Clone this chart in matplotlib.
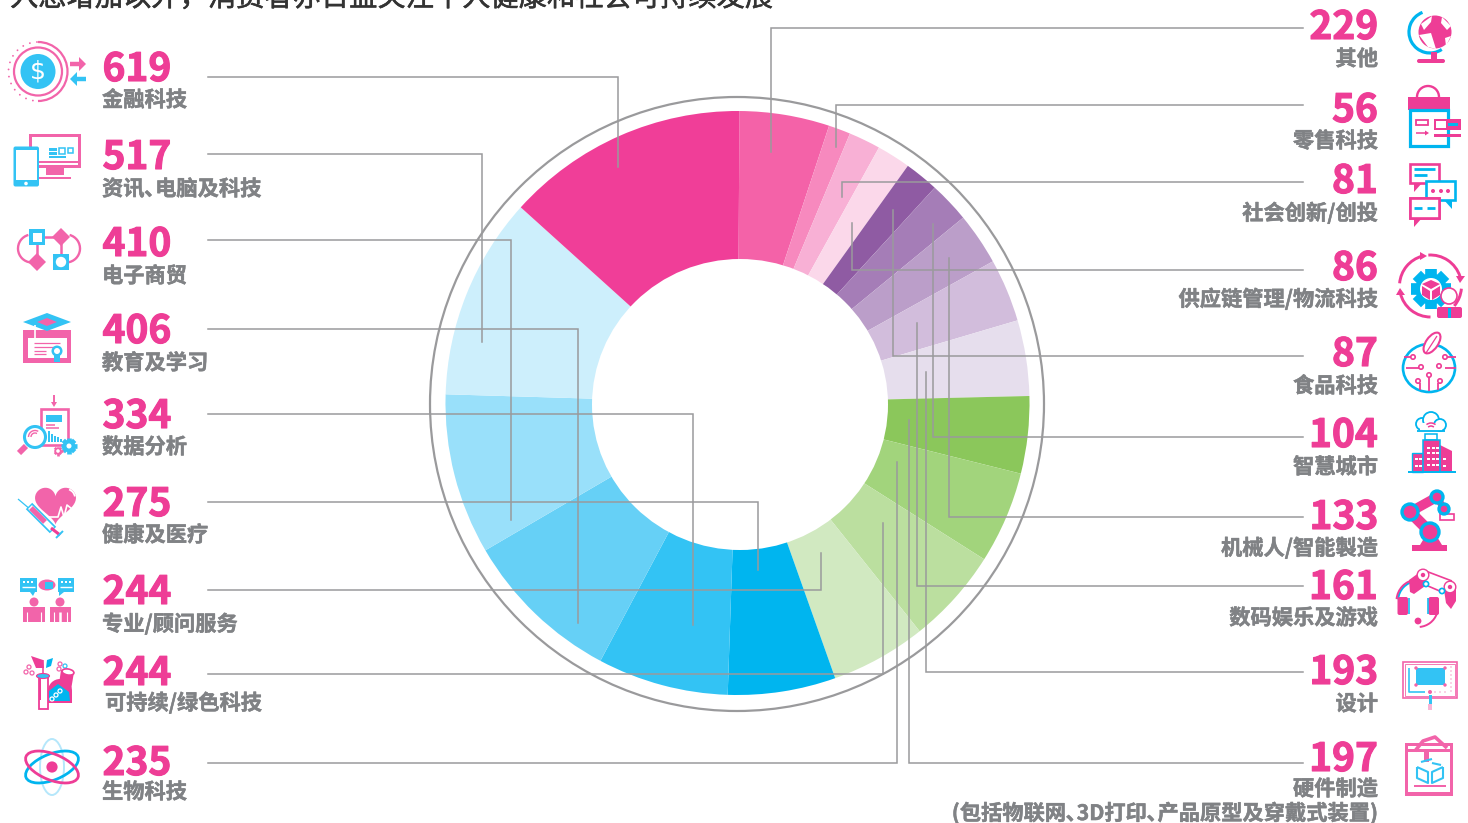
import numpy as np
import matplotlib
matplotlib.use("Agg")
import matplotlib.pyplot as plt
import matplotlib.patheffects as pe
from matplotlib.patches import Circle, Rectangle, Polygon, Arc, Ellipse, FancyBboxPatch

plt.rcParams['font.family'] = ['Noto Sans CJK SC', 'DejaVu Sans']

# Daten
right_names = ["其他", "零售科技", "社会创新/创投", "供应链管理/物流科技", "食品科技",
               "智慧城市", "机械人/智能製造", "数码娱乐及游戏", "设计",
               "硬件制造\n(包括物联网､3D打印､产品原型及穿戴式装置)"]
right_values = [229, 56, 81, 86, 87, 104, 133, 161, 193, 197]
left_names = ["金融科技", "资讯､电脑及科技", "电子商贸", "教育及学习", "数据分析",
              "健康及医疗", "专业/顾问服务", "可持续/绿色科技", "生物科技"]
left_values = [619, 517, 410, 406, 334, 275, 244, 244, 235]
title = "入息增加以外，消费者亦日益关注个人健康和社会可持续发展"

# Ring im Uhrzeigersinn ab 12 Uhr
ring_values = right_values + left_values[::-1]
ring_colors = ["#F462A8", "#F789BE", "#F8B0D5", "#FBD8EA",
               "#8F5BA3", "#A57DB7", "#BB9EC9", "#D2BDDC", "#E6DEED",
               "#8BC75B", "#A2D47C", "#BBDF9F", "#D1E9C1",
               "#00B5EF", "#33C3F4", "#66D0F6", "#99E0FA", "#CDEFFC", "#F03E98"]

# Layout in Pixeln: (y Linie, x Knick, y Ende, y Zahl, y Text)
left_rows = [(77, 618, 167, 81, 100), (154, 482, 342, 169, 189), (239.5, 511, 520, 256, 276),
             (329, 578, 623, 343, 363), (414, 693, 625, 428, 447), (501.5, 758, 570, 516, 535),
             (589.5, 821, 553, 604, 624), (674, 883, 523, 685, 703), (763, 897, 462, 775, 792)]
right_rows = [(27.5, 771, 152, 39, 59), (105, 836, 147, 122, 141), (182, 842, 197, 193, 213),
              (269.5, 852, 223, 280, 299), (356, 893, 210, 366, 386), (437, 933, 224, 447, 467),
              (517, 949, 258, 529, 548), (586, 917, 323, 599, 618), (672, 926, 372, 684, 704),
              (763, 909, 420, 771, 789)]

W, H = 1468, 823
PINK = "#EE3D96"
PINK2 = "#F264AA"
BLUE = "#33C3F4"
BLUE2 = "#00B5EF"
GREY = "#808285"
LINE = "#9A9A9C"

fig = plt.figure(figsize=(W / 100, H / 100), dpi=100)

cx, cy, r = 737.5, 403, 292
ax = fig.add_axes([(cx - r) / W, 1 - (cy + r) / H, 2 * r / W, 2 * r / H])
ax.pie(ring_values, colors=ring_colors, startangle=89.6, counterclock=False, radius=1,
       wedgeprops=dict(width=0.55, linewidth=0))
ax.set_xlim(-1, 1)
ax.set_ylim(-1, 1)
ax.axis("off")

# Overlay in Bildpixeln
pa = fig.add_axes([0, 0, 1, 1], facecolor="none")
pa.set_xlim(0, W)
pa.set_ylim(H, 0)
pa.axis("off")

# Loch sitzt im Original leicht neben der Mitte
pa.add_patch(Ellipse((740, 404.5), 296, 291, fc="white", ec="none", zorder=1))
pa.add_patch(Circle((737, 404), 307, fc="none", ec=LINE, lw=1.6))


def R(x0, y0, x1, y1, c=PINK, ec="none", lw=0, z=3):
    pa.add_patch(Rectangle((x0, y0), x1 - x0, y1 - y0, fc=c, ec=ec, lw=lw, zorder=z))


def O(x0, y0, x1, y1, ec=PINK, lw=1.6, z=3):
    pa.add_patch(Rectangle((x0, y0), x1 - x0, y1 - y0, fc="white", ec=ec, lw=lw, zorder=z))


def C(x, y, rad, c=PINK, ec="none", lw=0, z=3):
    pa.add_patch(Circle((x, y), rad, fc=c, ec=ec, lw=lw, zorder=z))


def P(pts, c=PINK, z=3):
    pa.add_patch(Polygon(pts, closed=True, fc=c, ec="none", zorder=z))


def L(pts, c=PINK, lw=1.5, z=3):
    xs, ys = zip(*pts)
    pa.plot(xs, ys, color=c, lw=lw, zorder=z, solid_capstyle="butt")


def A(x, y, rad, a0, a1, c=PINK, lw=1.5, z=3):
    # y-Achse ist invertiert, Winkel laufen im Uhrzeigersinn
    pa.add_patch(Arc((x, y), 2 * rad, 2 * rad, theta1=a0, theta2=a1, color=c, lw=lw, zorder=z))


def E(x, y, a, b, ang, ec=PINK, lw=1.8, z=3):
    pa.add_patch(Ellipse((x, y), 2 * a, 2 * b, angle=ang, fc="none", ec=ec, lw=lw, zorder=z))


def gear(x, y, rad, c):
    for k in range(8):
        t = k * np.pi / 4
        L([(x, y), (x + rad * np.cos(t), y + rad * np.sin(t))], c, lw=rad * 0.42, z=3)
    C(x, y, rad * 0.78, c, z=3)


def bubble(x0, y0, x1, y1, tx, c, flip=False):
    O(x0, y0, x1, y1, ec=c, lw=1.9)
    d = -8 if flip else 8
    P([(tx, y1), (tx + d, y1), (tx, y1 + 9)], c, z=3)


def rbox(x, y, w, h, c=PINK, z=4):
    pa.add_patch(FancyBboxPatch((x, y), w, h, boxstyle="round,pad=0,rounding_size=2", fc=c, ec="none", zorder=z))


# --- Icons links ---
# 619
C(38, 71.5, 17.5, BLUE)
A(38, 71.5, 24, 0, 360, PINK2, 1.6)
A(38, 71.5, 29.5, -90, 90, PINK2, 1.6)
for a in np.arange(100, 270, 14):
    t = np.radians(a)
    C(38 + 29.5 * np.cos(t), 71.5 + 29.5 * np.sin(t), 0.9, PINK2)
pa.text(38, 71.5, "$", color="white", fontsize=18, ha="center", va="center",
        family=["DejaVu Sans"], zorder=4)
L([(70, 64), (80, 64)], PINK2, 3.2)
P([(79, 57), (86, 64), (79, 71)], PINK2)
L([(76, 79), (86, 79)], BLUE, 3.2)
P([(77, 72), (70, 79), (77, 86)], BLUE)

# 517
R(29, 134, 81, 168, PINK2)
R(32, 137, 78, 161, "white")
R(39, 163, 78, 165, "white")
R(46, 168, 64, 175, PINK2)
R(39, 177, 71, 179, PINK2)
R(49, 148, 57, 151, BLUE)
R(49, 152, 57, 155, BLUE)
O(59, 148, 65, 154, BLUE, 1.1)
O(68, 148, 73, 153, BLUE, 1.1)
R(49, 156, 66, 158, BLUE)
rbox(13.5, 146.5, 25.5, 40, BLUE)
R(15.5, 150, 37, 180, "white", z=5)
C(26, 183.5, 1.8, "white", z=5)

# 410
L([(37, 237), (61, 237)], PINK2, 1.8)
L([(37, 237), (37, 262)], PINK2, 1.8)
L([(61, 237), (61, 262)], PINK2, 1.8)
A(32, 248.5, 14, 95, 255, PINK2, 1.7)
A(66, 248.5, 14, -75, 85, PINK2, 1.7)
P([(37, 253), (46, 262), (37, 271), (28, 262)], PINK2, z=4)
P([(61, 228), (70, 237), (61, 246), (52, 237)], PINK2, z=4)
R(29, 229, 45, 245, BLUE, z=4)
R(32.5, 232.5, 41.5, 241.5, "white", z=5)
R(53, 254, 69, 270, BLUE, z=4)
C(61, 262, 5.2, "white", z=5)

# 406
R(23, 330, 71, 363, PINK2)
R(28, 338, 67, 358, "white")
for yy, x1 in [(343, 60), (347, 60), (351, 46), (354, 46)]:
    L([(34, yy), (x1, yy)], PINK2, 0.9)
P([(23, 322), (47, 313), (71, 322), (47, 331)], BLUE, z=4)
P([(37, 322), (47, 318), (57, 322), (47, 326)], PINK2, z=5)
L([(35, 325), (35, 340)], "white", 1.2, z=5)
C(57, 351, 5.5, BLUE, z=4)
C(57, 351, 3, "white", z=5)
R(54, 355, 60, 362, BLUE, z=4)

# 334
L([(54, 395), (54, 403)], PINK2, 1.4)
P([(51, 402), (57, 402), (54, 407)], PINK2)
O(41, 409, 68, 445, PINK2, 1.9)
R(46, 415, 62, 422, BLUE)
L([(46, 425), (55, 425)], PINK2, 1.1)
L([(46, 428), (59, 428)], PINK2, 1.1)
for xx, t in zip([48, 51, 54, 57, 60], [431, 434, 436, 437, 439]):
    R(xx, t, xx + 1.8, 442, BLUE)
C(35, 437, 10.5, "white", ec=BLUE, lw=2.2, z=4)
A(35, 437, 6.5, 180, 300, PINK2, 1, z=5)
A(35, 437, 4, 180, 300, PINK2, 1, z=5)
L([(26, 446), (19, 453)], PINK2, 4.2, z=4)
gear(69, 446, 8, BLUE)
C(69, 446, 2.5, "white", z=4)
gear(58, 451, 4.5, PINK2)
C(58, 451, 1.8, "white", z=4)

# 275
t = np.linspace(0, 2 * np.pi, 80)
hx = 55.5 + 1.28 * 16 * np.sin(t) ** 3
hy = 503 - 1.28 * (13 * np.cos(t) - 5 * np.cos(2 * t) - 2 * np.cos(3 * t) - np.cos(4 * t))
P(np.column_stack([hx, hy]), PINK2)
A(66, 498, 9, -70, -10, "white", 1.3, z=4)
L([(48, 517), (58, 517), (61, 507), (64, 517), (67, 505), (72, 509)], "white", 1.2, z=4)
L([(18, 499), (31, 510)], BLUE, 0.9)
L([(29, 506), (53, 530)], BLUE, 6.5)
L([(30, 507), (52, 529)], "white", 4)
L([(31, 508), (45, 522)], PINK2, 3.8, z=4)
L([(51, 528), (60, 535)], PINK, 2.2)
L([(56, 538), (63, 531)], BLUE, 1.4)

# 244 Beratung
for x0 in (20, 57.5):
    R(x0, 578, x0 + 16.5, 592, BLUE)
    for k in range(3):
        R(x0 + 3 + k * 4, 581, x0 + 5 + k * 4, 583, "white", z=4)
    L([(x0 + 2, 587), (x0 + 14.5, 587)], "white", 1, z=4)
P([(30, 592), (35, 592), (33, 596)], BLUE)
P([(59, 592), (64, 592), (59, 596)], BLUE)
pa.add_patch(Ellipse((47, 585), 17, 11, fc=PINK2, ec="none", zorder=3))
R(45, 582, 53, 589, BLUE, z=4)
for x0, mid in ((23, 34), (49.5, 60)):
    C(mid, 602, 4.5, PINK2)
    R(x0, 607, x0 + 21.5, 622, PINK2)
    L([(x0 + 4, 612), (x0 + 4, 622)], "white", 0.8, z=4)
    L([(x0 + 17.5, 612), (x0 + 17.5, 622)], "white", 0.8, z=4)
L([(60, 612), (60, 622)], "white", 1.8, z=4)

# 244 gruen
P([(31, 656), (43, 660), (44, 668), (36, 668)], PINK)
P([(46, 668), (47, 660), (53, 658), (51, 666)], BLUE2)
L([(43, 660), (43, 678)], PINK, 1.1)
O(38.5, 676, 48, 709, PINK, 1.3)
pa.add_patch(Ellipse((43, 676), 13, 5, fc=BLUE, ec=PINK, lw=0.8, zorder=4))
R(39, 678, 41, 700, PINK, z=4)
C(60, 691, 12, PINK)
R(48, 691, 72, 703, PINK)
P([(61, 670), (74, 672), (71, 690), (59, 684)], PINK)
pa.add_patch(Ellipse((68, 672), 12, 6, angle=10, fc="white", ec=PINK, lw=1.2, zorder=4))
P([(49, 691), (58, 684), (69, 692), (70, 701), (49, 701)], BLUE2, z=4)
for p in [(56, 695), (60, 691), (52, 699)]:
    C(p[0], p[1], 2, "none", "white", 0.9, z=5)
for p in [(29, 667), (26, 672), (32, 673), (60, 664), (59, 669)]:
    C(p[0], p[1], 2, "white", PINK2, 0.9)
C(65, 666, 2, "white", BLUE, 0.9)

# 235
E(52, 767, 12, 28, 0, "#B5E7FB", 1.4)
E(52, 767, 28, 13, -22, BLUE2, 2)
E(52, 767, 28, 13, 22, PINK, 2)
C(52, 767, 5.6, PINK)

# --- Icons rechts ---
# 229
C(1435, 32, 16.5, PINK)
P([(1421, 24), (1432, 16), (1431, 22), (1424, 30)], "white", z=4)
P([(1442, 17), (1451, 26), (1447, 30), (1441, 23)], "white", z=4)
P([(1419, 35), (1431, 33), (1436, 49), (1428, 47)], "white", z=4)
P([(1445, 38), (1451, 36), (1446, 46)], "white", z=4)
A(1430, 32, 21, 56, 249, BLUE2, 2.3)
R(1431, 52, 1437, 60)
rbox(1417, 59, 28, 4, PINK, z=3)

# 56
A(1428, 97, 11, 180, 360, PINK, 1.7)
R(1408, 97, 1450, 110)
O(1409.5, 110, 1448, 146, BLUE2, 2.3)
R(1434, 119, 1461, 130, z=4)
R(1436, 121, 1446, 128, "white", z=5)
R(1448, 123, 1458, 126, BLUE2, z=5)
R(1434, 134, 1461, 137, z=4)
O(1416, 120, 1428, 125, PINK, 1.3)
L([(1416, 133), (1426, 133)], PINK, 1.1)
P([(1425, 130.5), (1429, 133), (1425, 135.5)], PINK)

# 81
bubble(1410, 164, 1439, 183, 1414, PINK)
for yy, x1 in [(169, 1435), (175, 1427)]:
    L([(1414, yy), (x1, yy)], BLUE2, 2)
bubble(1426, 181, 1455, 200, 1452, BLUE2, flip=True)
for xx in (1433, 1441, 1448):
    C(xx, 191, 2, PINK, z=4)
bubble(1410, 198, 1439, 218, 1414, PINK)
pa.add_patch(Rectangle((1410, 198), 29, 20, fc="white", ec=PINK, lw=1.9, zorder=5))
L([(1414, 208), (1422, 208)], BLUE2, 2, z=6)
L([(1427, 208), (1435, 208)], BLUE2, 2, z=6)

# 86
gear(1431, 289, 20, BLUE2)
C(1431, 289, 11, "white", z=4)
P([(1431, 280), (1440, 284), (1431, 289), (1422, 284)], PINK, z=5)
P([(1422, 286), (1430, 291), (1430, 300), (1422, 295)], PINK, z=5)
P([(1440, 286), (1432, 291), (1432, 300), (1440, 295)], PINK, z=5)
for a0, a1 in [(185, 254), (-94, -18), (90, 167)]:
    A(1430.5, 286, 31, a0, a1, PINK, 2.1, z=2.5)
A(1430.5, 286, 31, 5, 40, PINK, 2.1, z=2.5)
P([(1420, 252), (1420, 260), (1427, 256)], PINK)
P([(1456, 276), (1465, 276), (1460, 283)], PINK)
P([(1396, 295), (1405, 295), (1400, 288)], PINK)
C(1449, 296, 8, "white", PINK, 1.2, z=6)
rbox(1437, 307, 25, 11, PINK, z=6)
R(1447.5, 308, 1450.5, 318, BLUE2, z=7)

# 87
E(1429, 368, 26, 24, 0, BLUE2, 1.9)
pa.add_patch(Ellipse((1432, 343), 12, 24, angle=35, fc="white", ec=PINK, lw=1.5, zorder=4))
L([(1426, 353), (1437, 336)], PINK, 0.9, z=5)
for a, b in [((1404, 357), (1411, 357)), ((1406, 368), (1420, 368)), ((1429, 375), (1429, 391)),
             ((1445, 368), (1456, 368)), ((1447, 357), (1456, 357))]:
    L([a, b], PINK, 1.3)
for p in [(1413, 357), (1421, 367), (1429, 375), (1439, 366), (1445, 357), (1418, 381), (1440, 381)]:
    C(p[0], p[1], 2.2, "white", PINK, 1.2, z=4)
L([(1420, 383), (1420, 390)], PINK, 1.3)
L([(1438, 383), (1438, 390)], PINK, 1.3)

# 104
for xy, rr in [((1422, 424), 6), ((1431, 420), 8), ((1440, 425), 6)]:
    C(xy[0], xy[1], rr, "white", BLUE2, 1.3, z=3)
R(1420, 423, 1442, 431, "white", z=4)
L([(1417, 431), (1445, 431)], BLUE2, 1.3, z=4)
A(1431, 430, 7, 230, 310, PINK, 1.1, z=5)
A(1431, 430, 4, 225, 315, PINK, 1.1, z=5)
R(1425, 434, 1437, 440, "white", ec=BLUE2, lw=1.1)
R(1412, 453, 1423, 472, PINK, ec=BLUE2, lw=1)
P([(1440, 445), (1452, 451), (1452, 472), (1440, 472)], PINK)
R(1423, 440, 1440, 472, PINK, ec=BLUE2, lw=1.1, z=4)
for yy in (447, 452, 458, 464):
    for xx in (1427, 1432, 1436):
        R(xx, yy, xx + 3, yy + 2, "white", z=5)
for yy in (458, 465):
    for xx in (1415, 1419, 1443):
        R(xx, yy, xx + 2.5, yy + 2, "white", z=5)
L([(1408, 472), (1456, 472)], BLUE2, 1.4, z=5)

# 133
R(1412, 545, 1447, 551)
P([(1420, 545), (1426, 535), (1436, 535), (1442, 545)])
L([(1410, 512), (1430, 532)], PINK, 8)
L([(1410, 512), (1437, 497)], PINK, 7)
L([(1437, 497), (1444, 509)], PINK, 5)
O(1440, 514, 1454, 520, PINK, 1.2, z=2.5)
for x0, y0, rr in [(1430, 532, 9), (1410, 512, 8), (1437, 497, 6), (1444, 509, 5)]:
    C(x0, y0, rr, PINK, BLUE2, 2.4, z=4)

# 161
A(1418, 601, 20, 185, 262, BLUE2, 1.5)
A(1418, 601, 21.5, 185, 262, PINK, 1.4)
rbox(1397.5, 597, 10.5, 18, PINK)
rbox(1428.5, 597, 10.5, 18, PINK)
L([(1408.5, 598), (1408.5, 614)], BLUE2, 1.1, z=5)
L([(1428, 598), (1428, 614)], BLUE2, 1.1, z=5)
A(1418, 607, 20, 20, 85, PINK, 1.4)
C(1418, 621, 3.4, PINK)
L([(1423, 570), (1452, 581)], PINK, 1.2)
L([(1428, 586), (1442, 592)], PINK, 1.2)
P([(1409, 580), (1420, 572), (1428, 584), (1414, 594), (1410, 592)], PINK)
P([(1444, 590), (1456, 584), (1456, 601), (1451, 609), (1446, 603)], PINK)
C(1423, 575, 5.8, "white", PINK, 1)
C(1450, 587, 5.8, "white", PINK, 1)
for xx, yy in [(1423, 575), (1450, 587)]:
    C(xx, yy, 2.2, PINK, z=4)
C(1426, 584, 2.6, "white", BLUE2, 1.2, z=5)
C(1442, 591, 2.6, "white", BLUE2, 1.2, z=5)

# 193
O(1403, 662, 1457, 698, PINK2, 1.2)
O(1405, 664, 1455, 696, PINK2, 0.6)
L([(1409, 668), (1409, 692), (1425, 692)], BLUE, 1.2, z=4)
R(1416, 668, 1445, 685, BLUE, z=4)
for p in [(1416, 668), (1445, 668), (1416, 685), (1445, 685)]:
    C(p[0], p[1], 1.7, PINK2, z=5)
for yy in np.arange(667, 692, 4):
    C(1451, yy, 0.6, PINK2, z=4)
for xx in (1435, 1440, 1445):
    C(xx, 692, 0.6, PINK2, z=4)
C(1430, 692, 2, PINK2, z=5)
R(1428.5, 695, 1431.5, 704, BLUE, z=5)
R(1428, 704, 1432, 710, "#F9B5D6", z=5)

# 197
R(1405, 743, 1453, 796, PINK2)
R(1408, 746, 1450, 792, "white")
L([(1415, 751), (1423, 741), (1435, 737), (1447, 748)], PINK2, 2.6, z=4)
R(1408, 749, 1450, 752, PINK2, z=4)
R(1424, 752, 1429, 762, PINK2, z=4)
R(1414, 785, 1446, 786.5, PINK2, z=4)
for pts in [[(1417, 767), (1428, 772), (1428, 783), (1417, 778), (1417, 767)],
            [(1443, 767), (1432, 772), (1432, 783), (1443, 778), (1443, 767)],
            [(1421, 762), (1432, 759)], [(1432, 763), (1441, 765)]]:
    L(pts, BLUE, 1.5, z=4)

# --- Texte und Fuehrungslinien ---
fat = [pe.withStroke(linewidth=0.8, foreground=PINK)]
fat_grey = [pe.withStroke(linewidth=0.35, foreground=GREY)]
fat_title = [pe.withStroke(linewidth=0.4, foreground="#333333")]

pa.text(10, 6, title, fontsize=20.35, color="#333333", ha="left", va="baseline", weight="medium",
        path_effects=fat_title)

for name, val, row in zip(left_names, left_values, left_rows):
    y_line, x_knee, y_end, y_num, y_txt = row
    pa.plot([208, x_knee, x_knee], [y_line, y_line, y_end], color=LINE, lw=1.1, zorder=2, solid_joinstyle="miter")
    pa.text(102.5, y_num, str(val), color=PINK, fontsize=28, weight="black", ha="left", va="baseline", path_effects=fat)
    x_txt = 105 if val == 244 and y_num > 650 else 102
    pa.text(x_txt, y_txt, name, color=GREY, fontsize=15.3, weight="bold", ha="left", va="center", path_effects=fat_grey)

for name, val, row in zip(right_names, right_values, right_rows):
    y_line, x_knee, y_end, y_num, y_txt = row
    pa.plot([1303, x_knee, x_knee], [y_line, y_line, y_end], color=LINE, lw=1.1, zorder=2, solid_joinstyle="miter")
    pa.text(1378, y_num, str(val), color=PINK, fontsize=28, weight="black", ha="right", va="baseline", path_effects=fat)
    for k, part in enumerate(name.split("\n")):
        pa.text(1378, y_txt + k * 24, part, color=GREY, fontsize=15.3, weight="bold", ha="right", va="center", path_effects=fat_grey)

fig.savefig("out.png", dpi=100)
